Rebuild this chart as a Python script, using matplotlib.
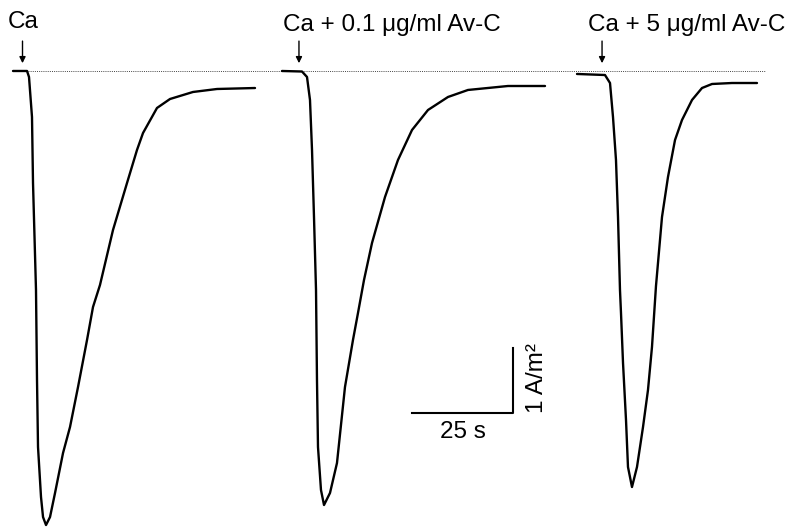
import matplotlib
matplotlib.use('Agg')
import matplotlib.pyplot as plt

plt.rcParams['font.family'] = ['Liberation Sans', 'DejaVu Sans']

# trace 1: Ca
t_ca = [0, 3.47, 3.96, 4.70, 4.95, 5.69, 5.94, 6.19, 6.93, 7.43, 8.17, 9.16, 10.40,
        12.38, 14.11, 16.09, 18.32, 19.80, 21.53, 24.75, 28.22, 30.69, 32.18, 35.64,
        38.86, 44.55, 50.50, 59.90]
i_ca = [0, 0, -0.092, -0.708, -1.723, -3.369, -4.754, -5.785, -6.554, -6.862, -6.985,
        -6.862, -6.492, -5.877, -5.477, -4.862, -4.138, -3.631, -3.292, -2.446, -1.723,
        -1.215, -0.954, -0.569, -0.431, -0.323, -0.277, -0.262]

# trace 2: Ca + 0.1 ug/ml Av-C
t_low = [0, 4.95, 6.19, 6.93, 7.43, 7.92, 8.42, 8.66, 8.91, 9.65, 10.40, 11.88, 13.61,
         15.59, 17.57, 18.81, 20.30, 22.28, 25.50, 28.71, 32.18, 36.14, 41.09, 46.04,
         55.94, 65.10]
i_low = [0, -0.008, -0.092, -0.446, -1.215, -2.246, -3.369, -4.754, -5.785, -6.446,
         -6.677, -6.492, -6.031, -4.862, -4.138, -3.723, -3.215, -2.646, -1.938, -1.369,
         -0.908, -0.600, -0.400, -0.292, -0.231, -0.231]

# trace 3: Ca + 5 ug/ml Av-C
t_high = [0, 6.93, 8.17, 8.91, 9.65, 10.15, 10.64, 10.89, 11.39, 12.13, 12.62, 13.61,
          14.85, 16.34, 17.57, 18.56, 19.55, 21.04, 22.52, 24.26, 25.99, 28.47,
          30.94, 33.42, 38.37, 44.55]
i_high = [-0.046, -0.062, -0.185, -0.708, -1.369, -2.246, -3.369, -3.723, -4.492, -5.369,
          -6.092, -6.400, -6.092, -5.477, -4.908, -4.246, -3.308, -2.246, -1.631,
          -1.062, -0.754, -0.446, -0.262, -0.200, -0.185, -0.185]

labels = ['Ca', 'Ca + 0.1 \u03bcg/ml Av-C', 'Ca + 5 \u03bcg/ml Av-C']
arrow_t = [2.35, 4.2, 6.2]   # s after trace start

# layout: where each trace starts on the page (s)
starts = [3.22, 69.80, 142.82]
label_x = [1.98, 70.05, 145.5]
label_y = [0.662, 0.615, 0.615]

fig = plt.figure(figsize=(7.87, 5.29), dpi=100)
ax = fig.add_axes([0, 0, 1, 1])
ax.set_xlim(0, 194.8)
ax.set_ylim(-7.046, 1.092)
ax.axis('off')

ax.plot([3.2, 189.4], [0, 0], ls=(0, (1, 1.2)), color='#444444', lw=0.7)

traces = [(t_ca, i_ca), (t_low, i_low), (t_high, i_high)]
for k, (t, cur) in enumerate(traces):
    ax.plot([s + starts[k] for s in t], cur, color='k', lw=1.7,
            solid_joinstyle='round', solid_capstyle='round')
    xa = starts[k] + arrow_t[k]
    ax.annotate('', xy=(xa, 0.12), xytext=(xa, 0.46),
                arrowprops=dict(arrowstyle='-|>', color='k', lw=1.0,
                                mutation_scale=9, shrinkA=0, shrinkB=0))
    ax.text(label_x[k], label_y[k], labels[k], fontsize=17.5, ha='left', va='baseline')

# scale bar 25 s x 1 A/m2
x0 = 101.98
y0 = -5.262
ax.plot([x0, x0 + 25, x0 + 25], [y0, y0, y0 + 1], color='k', lw=1.5)
ax.text(x0 + 12.5, y0 - 0.12, '25 s', fontsize=17.5, ha='center', va='top')
ax.text(x0 + 25 + 3.3, y0, '1 A/m\u00b2', fontsize=17.5, rotation=90,
        ha='left', va='bottom')

fig.savefig('out.png', dpi=100)
